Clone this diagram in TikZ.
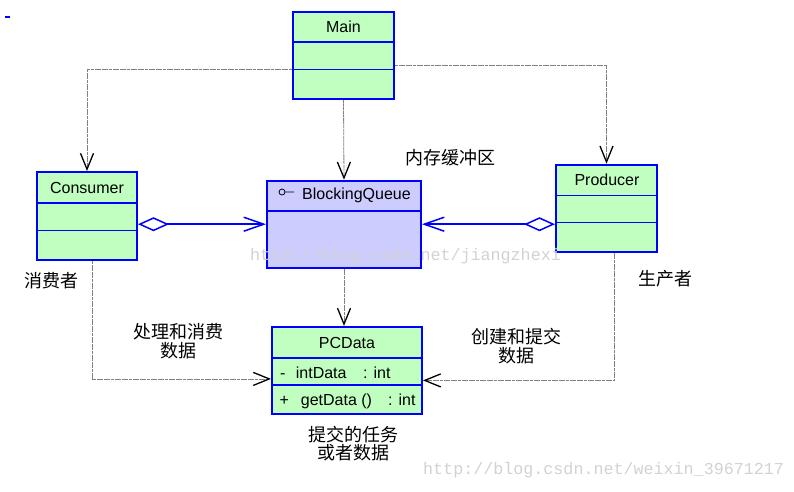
\documentclass[tikz,border=0pt]{standalone}
\usepackage{fontspec}
\setmainfont{Liberation Sans}
\newfontfamily\cjkfont{Noto Sans CJK SC}
\newfontfamily\wmfont{Liberation Mono}
\usetikzlibrary{arrows.meta,calc}
\definecolor{umlgreen}{HTML}{C0FFC0}
\definecolor{umlviolet}{HTML}{CCCCFF}
\definecolor{umlblue}{HTML}{0000FF}
\definecolor{linkgray}{HTML}{808080}
\definecolor{markgray}{HTML}{D2D2D2}

\begin{document}
\begin{tikzpicture}[x=1pt, y=-1pt,
  every node/.style={font=\fontsize{16}{19}\selectfont},
  classbox/.style={rectangle, draw=umlblue, line width=2pt, fill=umlgreen, inner sep=0pt},
  compline/.style={umlblue, line width=1.2pt},
  depend/.style={linkgray, line width=0.8pt, dash pattern=on 3pt off 0.6pt,
    -{Straight Barb[length=16pt, width=13pt, color=black, line width=1.3pt]}},
  aggreg/.style={umlblue, line width=1.5pt,
    {Diamond[open, length=31pt, width=14pt]}-{Straight Barb[length=20pt, width=14pt]}},
  note/.style={font=\cjkfont\fontsize{18}{18.5}\selectfont, align=center},
  watermark/.style={font=\wmfont\fontsize{16.7}{18}\selectfont, text=markgray},
]
\useasboundingbox (0,0) rectangle (794,491);

% stray mark
\draw[umlblue, line width=1.5pt] (5,17) -- (10,17);

% Classes
\node[classbox, minimum width=101pt, minimum height=87pt] (main) at (343.5,55.5) {};
\node[classbox, minimum width=100pt, minimum height=88pt] (cons) at (87,216) {};
\node[classbox, minimum width=101pt, minimum height=87pt] (prod) at (606.5,208.2) {};
\node[classbox, fill=umlviolet, minimum width=154pt, minimum height=87pt] (bq) at (344,224.2) {};
\node[classbox, minimum width=150pt, minimum height=87pt] (pcd) at (347,370.4) {};

% Compartments
\draw[compline] (main.west |- 0,42) -- (main.east |- 0,42);
\draw[compline] (main.west |- 0,69.5) -- (main.east |- 0,69.5);
\draw[compline] (cons.west |- 0,203) -- (cons.east |- 0,203);
\draw[compline] (cons.west |- 0,230.7) -- (cons.east |- 0,230.7);
\draw[compline] (prod.west |- 0,195.7) -- (prod.east |- 0,195.7);
\draw[compline] (prod.west |- 0,222.3) -- (prod.east |- 0,222.3);
\draw[compline] (bq.west |- 0,211) -- (bq.east |- 0,211);
\draw[compline] (pcd.west |- 0,358) -- (pcd.east |- 0,358);
\draw[compline] (pcd.west |- 0,385) -- (pcd.east |- 0,385);

% Class names
\node (mainname) at (343.5,26.5) {Main};
\node (consname) at (87,187.5) {Consumer};
\node (prodname) at (607,179.5) {Producer};
\node[anchor=west, inner sep=0pt] (bqname) at (302,195) {BlockingQueue};
\draw[black, line width=0.8pt] (bqname.west) ++(-20,-3) circle (3) ++(3,0) -- ++(9,0);
\node (pcdname) at (347,342.5) {PCData};

% PCData members
\node[anchor=base west, inner sep=0pt] (attrvis) at (280,378.3) {-};
\node[anchor=base west, inner sep=0pt] (attrname) at (295.7,378.3) {intData};
\node[anchor=base west, inner sep=0pt] (attrtype) at (363,378.3) {: int};
\node[anchor=base west, inner sep=0pt] (opvis) at (279.5,405.7) {+};
\node[anchor=base west, inner sep=0pt] (opname) at (300.7,405.7) {getData ()};
\node[anchor=base west, inner sep=0pt] (optype) at (388,405.7) {: int};

% Dependencies
\draw[depend] ([yshift=-13.5pt]main.west) -| (cons.north);
\draw[depend] ([yshift=-10pt]main.east) -| (prod.north);
\draw[depend] (main.south) -- (bq.north);
\draw[depend] (bq.south) -- (bq.south |- pcd.north);
\draw[depend] ([xshift=5pt]cons.south) |- ([yshift=-8.5pt]pcd.west);
\draw[depend] ([xshift=7.5pt]prod.south) |- ([yshift=-10pt]pcd.east);

% Aggregations
\draw[aggreg] (cons.east |- bq.west) -- (bq.west);
\draw[aggreg] (prod.west |- bq.east) -- (bq.east);

% Notes
\node[note] (buffer) at (450,158) {内存缓冲区};
\node[note] (consumer) at (51,280.5) {消费者};
\node[note] (producer) at (665,279) {生产者};
\node[note] (consume) at (178,341) {处理和消费\\数据};
\node[note] (produce) at (516,346) {创建和提交\\数据};
\node[note] (task) at (353,443.5) {提交的任务\\或者数据};

% Watermarks
\node[watermark, anchor=west, inner sep=0pt] (mark1) at (250,256) {http://blog.csdn.net/jiangzhexi};
\node[watermark, anchor=west, inner sep=0pt] (mark2) at (423,470) {http://blog.csdn.net/weixin\_39671217};

\end{tikzpicture}
\end{document}
